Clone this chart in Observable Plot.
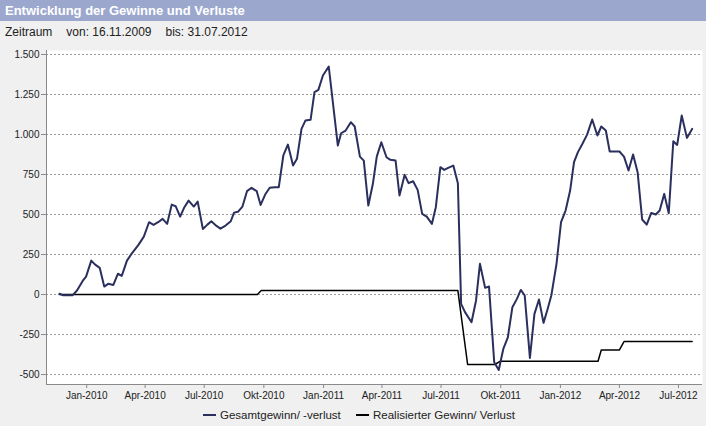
<!DOCTYPE html>
<html>
<head>
<meta charset="utf-8">
<script src="https://cdn.jsdelivr.net/npm/d3@7"></script>
<script src="https://cdn.jsdelivr.net/npm/@observablehq/plot@0.6"></script>
<style>
  html, body { margin: 0; padding: 0; background: #f0f0f0; width: 706px; height: 426px; overflow: hidden; }
  body { font-family: "Liberation Sans", Arial, sans-serif; }
  #title { height: 21px; background: #9ba7cd; color: #fff; font-weight: bold; font-size: 13px; line-height: 21px; padding-left: 5px; box-sizing: border-box; }
  #sub { height: 22px; background: #f0f0f0; color: #222; font-size: 12px; line-height: 22px; padding-left: 5px; box-sizing: border-box; }
  #sub span { margin-right: 14px; }
  #chart { position: relative; height: 362px; }
  #legend { position: relative; height: 21px; font-size: 11.5px; color: #222; }
  #legend .item { position: absolute; top: 0; line-height: 21px; white-space: nowrap; }
  #legend .sw { display: inline-block; width: 13px; height: 2px; vertical-align: middle; margin-right: 4px; margin-top: -2px; }
</style>
</head>
<body>
<div id="title">Entwicklung der Gewinne und Verluste</div>
<div id="sub"><span>Zeitraum</span><span>von: 16.11.2009</span><span>bis: 31.07.2012</span></div>
<div id="chart"></div>
<div id="legend"></div>
<script>
// ---- data ----
const gesamtDates = [
  "2009-11-20","2009-11-26","2009-12-10","2009-12-17","2009-12-26","2009-12-31",
  "2010-01-08","2010-01-14","2010-01-21","2010-01-28","2010-02-03","2010-02-11","2010-02-18","2010-02-24",
  "2010-03-04","2010-03-11","2010-03-22","2010-03-30","2010-04-07","2010-04-14","2010-04-21","2010-04-28",
  "2010-05-05","2010-05-12","2010-05-18","2010-05-25","2010-05-31","2010-06-07","2010-06-15","2010-06-21",
  "2010-06-29","2010-07-06","2010-07-12","2010-07-20","2010-07-26","2010-08-03","2010-08-11","2010-08-16",
  "2010-08-22","2010-08-29","2010-09-05","2010-09-12","2010-09-20","2010-09-26","2010-10-03","2010-10-10",
  "2010-10-18","2010-10-24","2010-10-31","2010-11-07","2010-11-15","2010-11-21","2010-11-28","2010-12-04",
  "2010-12-12","2010-12-18","2010-12-24","2010-12-31","2011-01-09","2011-01-23","2011-01-28","2011-02-04",
  "2011-02-12","2011-02-18","2011-02-26","2011-03-04","2011-03-11","2011-03-18","2011-03-24","2011-03-31",
  "2011-04-08","2011-04-14","2011-04-22","2011-04-28","2011-05-06","2011-05-12","2011-05-19","2011-05-26",
  "2011-06-02","2011-06-09","2011-06-17","2011-06-23","2011-06-30","2011-07-06","2011-07-12","2011-07-20",
  "2011-07-27","2011-08-01","2011-08-07","2011-08-17","2011-08-24","2011-08-30","2011-09-07","2011-09-13",
  "2011-09-21","2011-09-28","2011-10-05","2011-10-12","2011-10-19","2011-10-26","2011-11-01","2011-11-07",
  "2011-11-15","2011-11-22","2011-11-29","2011-12-06","2011-12-12","2011-12-18","2011-12-26","2012-01-02",
  "2012-01-09","2012-01-16","2012-01-22","2012-01-28","2012-02-04","2012-02-11","2012-02-19","2012-02-27",
  "2012-03-04","2012-03-11","2012-03-17","2012-03-25","2012-04-01","2012-04-08","2012-04-15","2012-04-22",
  "2012-04-29","2012-05-06","2012-05-13","2012-05-20","2012-05-27","2012-06-02","2012-06-09","2012-06-16",
  "2012-06-23","2012-06-29","2012-07-06","2012-07-14","2012-07-22"
];
const gesamtValues = [
  5, -5, -5, 25, 87, 112,
  212, 187, 167, 50, 67, 60, 130, 117,
  212, 254, 312, 362, 452, 435, 452, 473,
  442, 562, 552, 487, 542, 587, 550, 581,
  410, 437, 458, 429, 412, 431, 458, 512,
  517, 550, 646, 667, 646, 560, 625, 667,
  671, 671, 869, 937, 806, 848, 1035, 1087,
  1092, 1265, 1279, 1369, 1425, 931, 1008, 1025,
  1077, 1050, 862, 837, 556, 692, 862, 952,
  858, 842, 837, 619, 748, 696, 708, 654,
  504, 487, 442, 546, 796, 779, 792, 806,
  696, -58, -110, -173, -37, 192, 42, 50,
  -423, -471, -340, -267, -79, -27, 29, -6,
  -396, -121, -31, -177, -95, -6, 192, 452,
  525, 650, 827, 890, 942, 998, 1094, 994,
  1050, 1025, 894, 894, 894, 862, 775, 875,
  765, 469, 437, 510, 500, 525, 629, 508,
  958, 935, 1119, 979, 1035
];
const realDates = [
  "2009-11-20","2010-09-21","2010-09-27","2011-07-27","2011-08-11","2011-09-22","2011-09-30",
  "2012-02-28","2012-03-04","2012-04-01","2012-04-08","2012-07-22"
];
const realValues = [0, 0, 25, 25, -437, -437, -417, -417, -346, -346, -294, -294];

const yTicks = [-500, -250, 0, 250, 500, 750, 1000, 1250, 1500];
const xTicks = ["2010-01-01","2010-04-01","2010-07-01","2010-10-01","2011-01-01","2011-04-01",
                "2011-07-01","2011-10-01","2012-01-01","2012-04-01","2012-07-01"];
const xTickLabels = ["Jan-2010","Apr-2010","Jul-2010","Okt-2010","Jan-2011","Apr-2011",
                     "Jul-2011","Okt-2011","Jan-2012","Apr-2012","Jul-2012"];
const seriesNames = ["Gesamtgewinn/ -verlust", "Realisierter Gewinn/ Verlust"];

// ---- build ----
const gesamt = gesamtDates.map((d, i) => ({date: new Date(d), value: gesamtValues[i]}));
const realized = realDates.map((d, i) => ({date: new Date(d), value: realValues[i]}));
const xTickDates = xTicks.map(d => new Date(d));
const labelMap = new Map(xTickDates.map((d, i) => [+d, xTickLabels[i]]));
const de = d3.formatLocale({decimal: ",", thousands: ".", grouping: [3], currency: ["", " €"], minus: "-"});
const yFmt = de.format(",.0f");

const xDomain = [new Date("2009-10-31"), new Date("2012-08-07")];
const yDomain = [-562, 1525];
const NAVY = "#2b2f5e";

const chart = Plot.plot({
  width: 706,
  height: 362,
  marginTop: 7,
  marginBottom: 21,
  marginLeft: 46,
  marginRight: 4,
  style: {background: "#f0f0f0", fontFamily: "'Liberation Sans', Arial, sans-serif", fontSize: "10px", color: "#222", overflow: "visible"},
  x: {type: "utc", domain: xDomain},
  y: {domain: yDomain},
  marks: [
    Plot.frame({fill: "white", stroke: null}),
    Plot.gridY(yTicks, {stroke: "#9a9a9a", strokeOpacity: 1, strokeDasharray: "2,2", strokeWidth: 1}),
    Plot.ruleX([xDomain[0]], {stroke: "#8a8a8a", strokeWidth: 1}),
    Plot.ruleY([yDomain[0]], {stroke: "#8a8a8a", strokeWidth: 1}),
    Plot.axisY(yTicks, {tickFormat: yFmt, tickSize: 5, tickPadding: 2, label: null, stroke: "#8a8a8a", fill: "#222"}),
    Plot.axisX(xTickDates, {tickFormat: d => labelMap.get(+d), tickSize: 4, tickPadding: 3, label: null, stroke: "#8a8a8a", fill: "#222"}),
    Plot.line(realized, {x: "date", y: "value", stroke: "#000", strokeWidth: 1.5}),
    Plot.line(gesamt, {x: "date", y: "value", stroke: NAVY, strokeWidth: 2})
  ]
});
document.getElementById("chart").appendChild(chart);

const legend = document.getElementById("legend");
const colors = [NAVY, "#000"];
const lefts = [203, 356];
seriesNames.forEach((name, i) => {
  const it = document.createElement("div");
  it.className = "item";
  it.style.left = lefts[i] + "px";
  it.innerHTML = `<span class="sw" style="background:${colors[i]}"></span>${name}`;
  legend.appendChild(it);
});
</script>
</body>
</html>
